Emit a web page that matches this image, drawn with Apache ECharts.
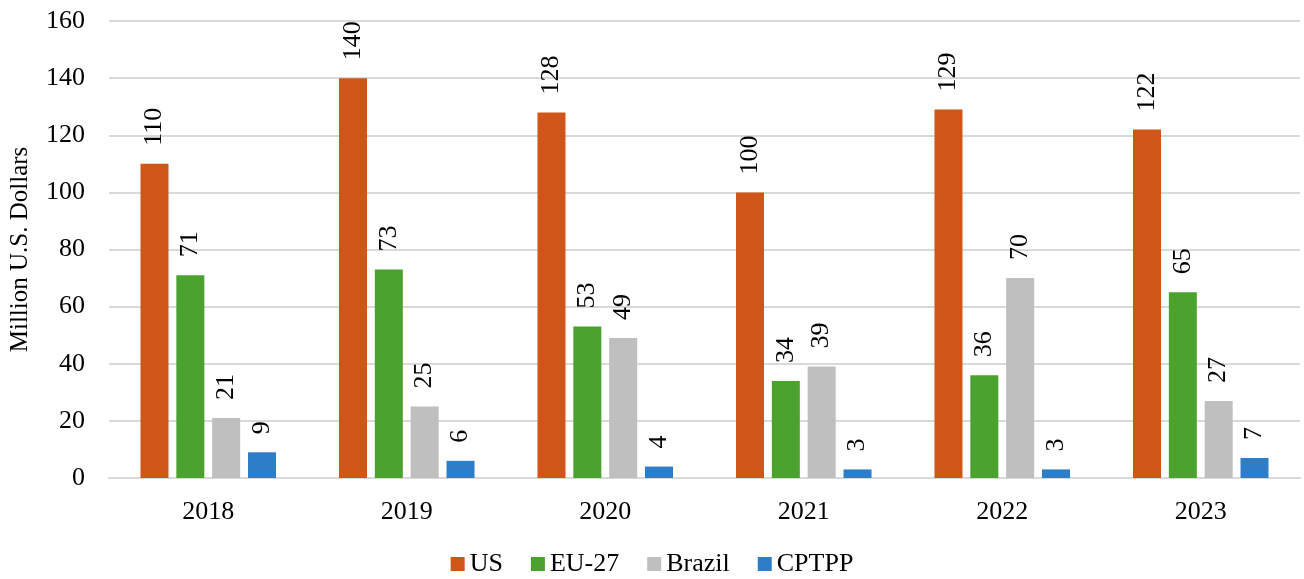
<!DOCTYPE html>
<html>
<head>
<meta charset="utf-8">
<script src="https://cdn.jsdelivr.net/npm/echarts@6/dist/echarts.min.js"></script>
<style>
  html, body { margin: 0; padding: 0; background: #fff; }
  #chart { width: 1304px; height: 579px; }
</style>
</head>
<body>
<div id="chart"></div>
<script>
var years = ['2018', '2019', '2020', '2021', '2022', '2023'];
var us = [110, 140, 128, 100, 129, 122];
var eu27 = [71, 73, 53, 34, 36, 65];
var brazil = [21, 25, 49, 39, 70, 27];
var cptpp = [9, 6, 4, 3, 3, 7];

var font = 'Liberation Serif, Times New Roman, serif';
var color = ['#d05519', '#4ca22f', '#bfbfbf', '#2e7dc8'];

var chart = echarts.init(document.getElementById('chart'));

function makeSeries(name, data) {
  return {
    name: name,
    type: 'bar',
    data: data,
    barWidth: 28,
    barGap: '28%',
    label: {
      show: true,
      position: 'top',
      rotate: 90,
      align: 'left',
      verticalAlign: 'middle',
      distance: 18,
      fontFamily: font,
      fontSize: 26,
      color: '#000',
      formatter: function(p) { return Math.round(p.value); }
    }
  };
}

chart.setOption({
  animation: false,
  color: color,
  textStyle: { fontFamily: font },
  grid: { left: 108, right: 4, top: 21, bottom: 101 },
  legend: {
    bottom: -3,
    left: 'center',
    itemWidth: 14,
    itemHeight: 14,
    itemGap: 28,
    icon: 'rect',
    textStyle: { fontFamily: font, fontSize: 26, color: '#000' },
    data: ['US', 'EU-27', 'Brazil', 'CPTPP']
  },
  xAxis: {
    type: 'category',
    data: years,
    axisTick: { show: false },
    axisLine: { lineStyle: { color: '#d9d9d9', width: 2 } },
    axisLabel: { fontFamily: font, fontSize: 26, color: '#000', margin: 21 }
  },
  yAxis: {
    type: 'value',
    min: 0,
    max: 160,
    interval: 20,
    name: 'Million U.S. Dollars',
    nameLocation: 'middle',
    nameGap: 76,
    nameTextStyle: { fontFamily: font, fontSize: 25, color: '#000' },
    axisLabel: { fontFamily: font, fontSize: 26, color: '#000', margin: 24 },
    splitLine: { lineStyle: { color: '#d9d9d9', width: 2 } }
  },
  series: [
    makeSeries('US', us),
    makeSeries('EU-27', eu27),
    makeSeries('Brazil', brazil),
    makeSeries('CPTPP', cptpp)
  ]
});
</script>
</body>
</html>
